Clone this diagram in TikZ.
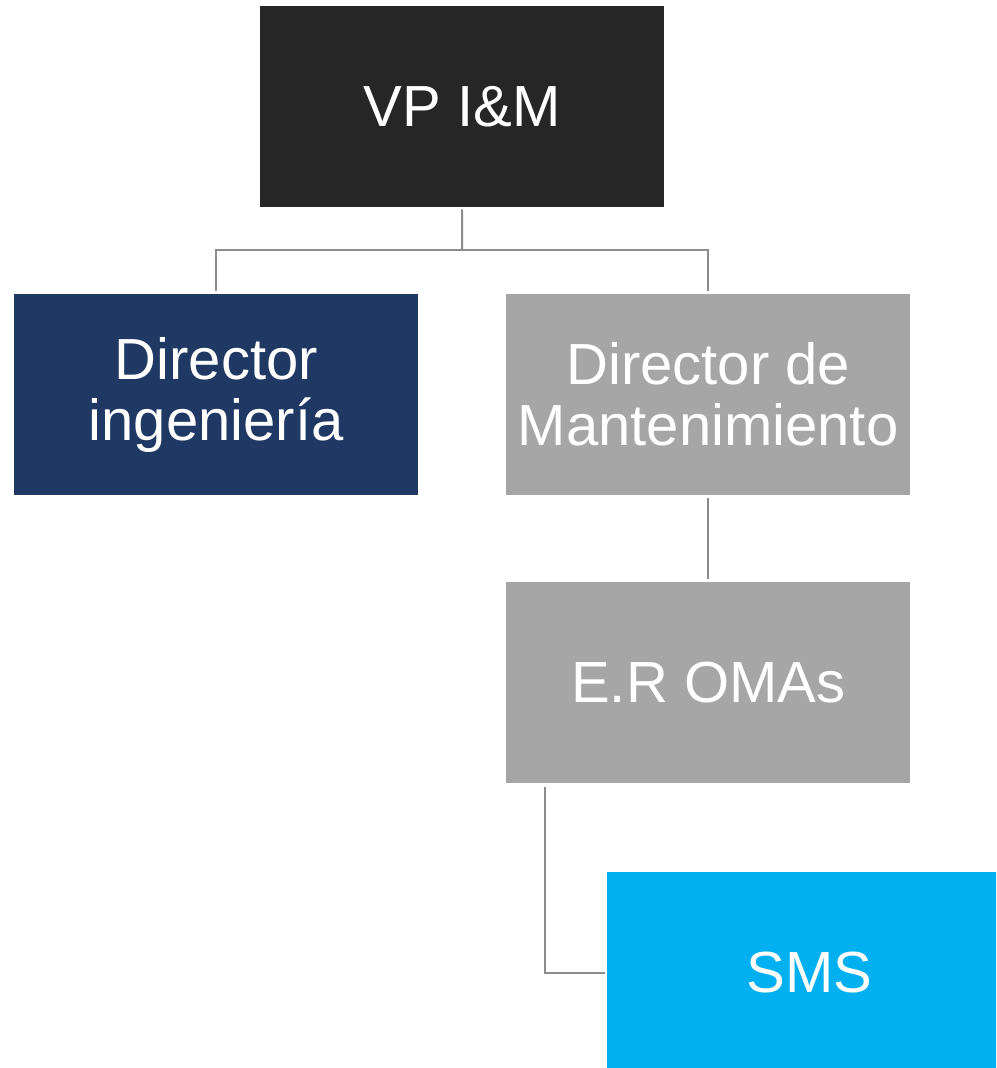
\documentclass[tikz,border=0pt]{standalone}
\usepackage{fontspec}
\setmainfont{Liberation Sans}
\definecolor{vpdark}{HTML}{262626}
\definecolor{navy}{HTML}{203864}
\definecolor{midgray}{HTML}{A6A6A6}
\definecolor{sky}{HTML}{00B0F0}
\definecolor{linegray}{HTML}{8C8C8C}
\begin{document}
\begin{tikzpicture}[x=1pt,y=-1pt,
  orgbox/.style={rectangle, anchor=north west, minimum width=404pt, minimum height=201pt,
    inner sep=0pt, text=white, align=center, font=\fontsize{58}{61}\selectfont},
  conn/.style={draw=linegray, line width=2pt}]
\clip (0,0) rectangle (996,1068);
\node[orgbox, fill=vpdark] (vp) at (260,6) {VP I\&M};
\node[orgbox, fill=navy] (di) at (14,294) {Director\\ingeniería};
\node[orgbox, fill=midgray] (dm) at (506,294) {Director de\\Mantenimiento};
\node[orgbox, fill=midgray] (er) at (506,582) {E.R OMAs};
\node[orgbox, fill=sky] (sms) at (607,872) {SMS};
\coordinate (bar) at (462,250);
\coordinate (erdrop) at (545,783);
\draw[conn, shorten <=2pt] (vp.south) -- (bar);
\draw[conn, shorten <=3pt, shorten >=3pt] (di.north) |- (bar) -| (dm.north);
\draw[conn, shorten <=3pt, shorten >=3pt] (dm.south) -- (er.north);
\draw[conn, shorten <=4pt, shorten >=2pt] (erdrop) |- (sms.west);
\end{tikzpicture}
\end{document}
